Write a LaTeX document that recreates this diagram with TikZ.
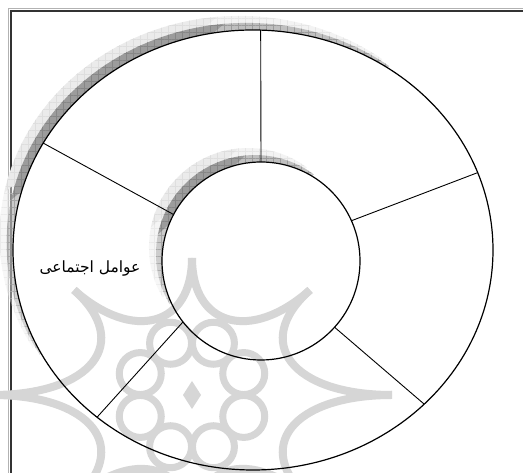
\documentclass[tikz,border=0pt]{standalone}
\usepackage{fontspec}
\newfontfamily\arabicfont[Script=Arabic]{DejaVu Sans}
\TeXXeTstate=1
\usepackage{tikz}
\usetikzlibrary{shapes.geometric,patterns.meta,calc,fadings}

\begin{tikzfadingfrompicture}[name=shadowfade, x=1bp, y=1bp]
    \fill[rotate=42, transparent!100] (-120,-120) rectangle (120,5);
    \shade[rotate=42, bottom color=transparent!100, top color=transparent!0] (-120,5) rectangle (120,20);
    \fill[rotate=42, transparent!0] (-120,20) rectangle (120,120);
\end{tikzfadingfrompicture}

\begin{document}
\begin{tikzpicture}[x=1pt, y=1pt,
    ring/.style={ellipse, draw, line width=1.2pt, inner sep=0pt, outer sep=0pt,
      minimum width=480pt, minimum height=440pt},
    hub/.style={circle, draw, line width=1.2pt, inner sep=0pt, outer sep=0pt,
      minimum size=198pt},
    spoke/.style={line width=0.9pt},
    shadow/.style={path fading=shadowfade},
    grid/.style={shadow, pattern={Hatch[angle=0,distance=7pt,line width=0.35pt]}},
    wmark/.style={draw=black!16, line width=8pt}]
    \useasboundingbox (0,0) rectangle (523,473);
    \clip (0,0) rectangle (523,473);

    % double frame
    \draw[gray!60, line width=1.2pt] (8.5,-5) |- (530,464.5);
    \draw[black!80, line width=1.5pt] (11,-5) |- (530,462);

    % shadow of the ring
    \fill[shadow, gray!16] (240,237) ellipse [x radius=240, y radius=220];
    \path[grid, pattern color=gray!26] (240,237) ellipse [x radius=240, y radius=220];
    \fill[shadow, gray!78] (247,230) ellipse [x radius=240, y radius=220];
    \path[grid, pattern color=gray!95] (247,230) ellipse [x radius=240, y radius=220];
    \fill[white] (253,223) ellipse [x radius=240, y radius=220];
    % shadow of the hub
    \fill[shadow, gray!16] (248,226) circle [radius=99];
    \path[grid, pattern color=gray!26] (248,226) circle [radius=99];
    \fill[shadow, gray!78] (255,219) circle [radius=99];
    \path[grid, pattern color=gray!95] (255,219) circle [radius=99];
    \fill[white] (261,212) circle [radius=99];

    % watermark rosette
    \coordinate (wm) at (192,78);
    \coordinate (c1) at (192,215);
    \coordinate (c2) at (74,183);
    \coordinate (c3) at (-8,78);
    \coordinate (c4) at (74,-27);
    \coordinate (c5) at (192,-59);
    \coordinate (c6) at (310,-27);
    \coordinate (c7) at (392,78);
    \coordinate (c8) at (310,183);
    \foreach \p/\q in {c1/c2,c2/c3,c3/c4,c4/c5,c5/c6,c6/c7,c7/c8,c8/c1} {
        \draw[wmark] (\p) .. controls ($(\p)!0.5!(wm)$) and ($(\q)!0.5!(wm)$) .. (\q);
    }
    \foreach \a in {22.5,67.5,...,337.5} {
        \draw[wmark, line width=7pt] ($(wm)+(\a:56)$) circle [radius=21];
    }
    \fill[black!16] (wm) +(0,14) -- +(9,0) -- +(0,-14) -- +(-9,0) -- cycle;

    % ring and hub
    \node[ring] (outer) at (253,223) {};
    \node[hub] (hub) at (261,212) {};

    % spokes
    \draw[spoke] (hub.90) -- (outer.88);
    \draw[spoke] (hub.24) -- (outer.19.8);
    \draw[spoke] (hub.-42) -- (outer.-42.8);
    \draw[spoke] (hub.218) -- (outer.227.6);
    \draw[spoke] (hub.152) -- (outer.153.7);

    \node[font=\arabicfont\fontsize{15.5}{17}\selectfont] (social) at (90,204) {\beginR عوامل اجتماعی\endR};
\end{tikzpicture}
\end{document}
